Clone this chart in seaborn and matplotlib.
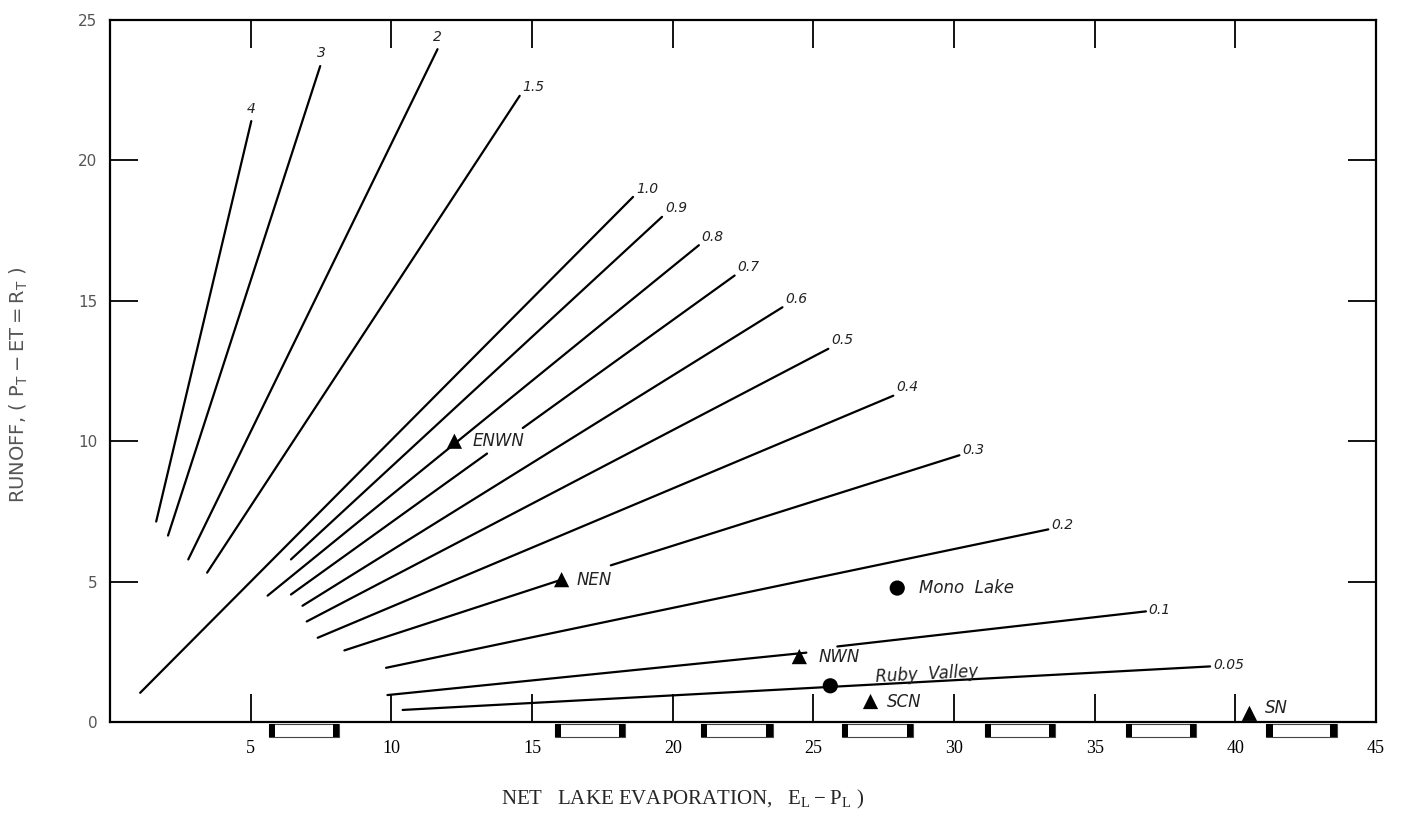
import pandas as pd
import seaborn as sns
import matplotlib.pyplot as plt
from matplotlib.patches import Rectangle
import matplotlib.transforms as mtransforms

# ratio lines, split into pieces where the original leaves a gap for a label
seg_name = ["4", "3", "2", "1.5", "1.0", "0.9", "0.8", "0.7a", "0.7b", "0.6", "0.5",
            "0.4", "0.3a", "0.3b", "0.2", "0.1a", "0.1b", "0.05"]
seg_x0 = [1.64, 2.06, 2.78, 3.45, 1.07, 6.43, 5.60, 6.43, 14.67, 6.84, 6.99,
          7.38, 8.33, 17.80, 9.81, 9.86, 25.85, 10.40]
seg_y0 = [7.14, 6.64, 5.79, 5.32, 1.04, 5.79, 4.50, 4.54, 10.47, 4.14, 3.58,
          3.00, 2.55, 5.58, 1.93, 0.96, 2.69, 0.43]
seg_x1 = [5.02, 7.47, 11.64, 14.56, 18.59, 19.62, 20.93, 13.40, 22.20, 23.90, 25.53,
          27.84, 16.05, 30.19, 33.35, 24.75, 36.82, 39.10]
seg_y1 = [21.40, 23.36, 23.96, 22.30, 18.70, 17.99, 16.98, 9.56, 15.90, 14.77, 13.29,
          11.62, 5.07, 9.50, 6.86, 2.47, 3.94, 1.98]

# ratio labels at the upper ends of the lines
ratio_text = ["4", "3", "2", "1.5", "1.0", "0.9", "0.8", "0.7", "0.6", "0.5",
              "0.4", "0.3", "0.2", "0.1", "0.05"]
ratio_x = [5.02, 7.47, 11.64, 14.56, 18.59, 19.62, 20.93, 22.20, 23.90, 25.53,
           27.84, 30.19, 33.35, 36.82, 39.10]
ratio_y = [21.40, 23.36, 23.96, 22.30, 18.70, 17.99, 16.98, 15.90, 14.77, 13.29,
           11.62, 9.50, 6.86, 3.94, 1.98]

# basins / lakes
site_name = ["ENWN", "NEN", "NWN", "SCN", "SN", "Mono  Lake", "Ruby  Valley"]
site_x = [12.24, 16.05, 24.50, 27.03, 40.50, 27.98, 25.60]
site_y = [10.00, 5.07, 2.33, 0.73, 0.31, 4.77, 1.29]
site_kind = ["basin", "basin", "basin", "basin", "basin", "lake", "lake"]

# little scale boxes under the x axis
scale_boxes = [(5.64, 8.14), (15.8, 18.3), (21.0, 23.55), (26.0, 28.54),
               (31.1, 33.6), (36.1, 38.6), (41.1, 43.6)]

sns.set_style("white")
plt.rcParams["font.family"] = ["DejaVu Sans"]

seg_df = pd.DataFrame({
    "seg": seg_name * 2,
    "x": seg_x0 + seg_x1,
    "y": seg_y0 + seg_y1,
})
site_df = pd.DataFrame({"x": site_x, "y": site_y, "kind": site_kind, "name": site_name})

fig = plt.figure(figsize=(14.02, 8.23), dpi=100)
ax = fig.add_axes([0.0785, 0.1227, 0.903, 0.853])

sns.lineplot(data=seg_df, x="x", y="y", units="seg", estimator=None, sort=False,
             color="black", lw=1.6, ax=ax, legend=False)
sns.scatterplot(data=site_df, x="x", y="y", style="kind",
                markers={"basin": "^", "lake": "o"}, color="black", s=120,
                linewidth=0, ax=ax, legend=False, zorder=5, clip_on=False)

# ratio labels
lab_style = {"4": ("center", "bottom", 0, 4), "3": ("center", "bottom", 1, 4),
             "2": ("center", "bottom", 0, 4), "0.3": ("left", "center", 2, 4),
             "0.2": ("left", "center", 2, 3), "0.1": ("left", "center", 2, 1),
             "0.05": ("left", "center", 2, 1)}
for t, x, y in zip(ratio_text, ratio_x, ratio_y):
    ha, va, dx, dy = lab_style.get(t, ("left", "bottom", 2, 1))
    ax.annotate(t, (x, y), xytext=(dx, dy), textcoords="offset points",
                ha=ha, va=va, fontsize=10, style="italic", color="#222")

# site labels
site_off = {"ENWN": (13, 0, 0), "NEN": (11, 0, 0), "NWN": (14, 0, 0),
            "SCN": (12, 0, 0), "SN": (11, 4, 0), "Mono  Lake": (16, 0, 0),
            "Ruby  Valley": (32, 8, 3)}
for n, x, y in zip(site_name, site_x, site_y):
    dx, dy, rot = site_off[n]
    ax.annotate(n, (x, y), xytext=(dx, dy), textcoords="offset points",
                ha="left", va="center", fontsize=12, style="italic",
                rotation=rot, color="#222")

ax.set_xlim(0, 45)
ax.set_ylim(0, 25)
ax.set_xticks([5, 10, 15, 20, 25, 30, 35, 40, 45])
ax.set_yticks([0, 5, 10, 15, 20, 25])
ax.tick_params(direction="in", length=20, width=1.3, top=True, right=True,
               bottom=True, left=True, colors="black")
ax.tick_params(axis="x", pad=13)
ax.tick_params(axis="y", pad=9)
for lb in ax.get_xticklabels():
    lb.set_fontfamily("Liberation Serif")
    lb.set_fontsize(13)
for lb in ax.get_yticklabels():
    lb.set_fontsize(11)
    lb.set_color("#555555")
for sp in ax.spines.values():
    sp.set_linewidth(1.6)
    sp.set_color("black")

ax.set_xlabel(r"NET   LAKE EVAPORATION,   $\mathregular{E_L - P_L}$ )",
              fontfamily="Liberation Serif", fontsize=15)
ax.xaxis.set_label_coords(0.452, -0.094)
ax.set_ylabel(r"RUNOFF, ( $\mathregular{P_T - ET = R_T}$ )", fontsize=14,
              color="#555555")
ax.yaxis.set_label_coords(-0.063, 0.48)

# scale boxes below the axis
trans = mtransforms.blended_transform_factory(ax.transData, ax.transAxes)
for a, b in scale_boxes:
    ax.add_patch(Rectangle((a, -0.022), b - a, 0.019, transform=trans,
                           facecolor="white", edgecolor="#444", lw=0.8, clip_on=False))
    for xx in (a, b - 0.22):
        ax.add_patch(Rectangle((xx, -0.022), 0.22, 0.019, transform=trans,
                               facecolor="black", edgecolor="none", clip_on=False))

fig.savefig("out.png", dpi=100)
